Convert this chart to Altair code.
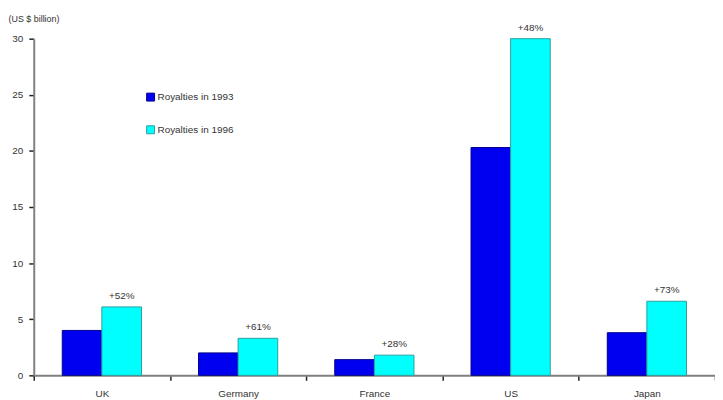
import altair as alt
import pandas as pd

countries = ["UK", "Germany", "France", "US", "Japan"]
royalties_1993 = [4.0, 2.0, 1.4, 20.3, 3.8]
royalties_1996 = [6.1, 3.3, 1.8, 30.0, 6.6]
growth_labels = ["+52%", "+61%", "+28%", "+48%", "+73%"]
series = ["Royalties in 1993", "Royalties in 1996"]

rows = []
for c, a, b, g in zip(countries, royalties_1993, royalties_1996, growth_labels):
    rows.append({"country": c, "series": series[0], "value": a, "label": ""})
    rows.append({"country": c, "series": series[1], "value": b, "label": g})
df = pd.DataFrame(rows)

FONT = "Liberation Sans"

x = alt.X("country:N", sort=countries,
          scale=alt.Scale(paddingInner=0, paddingOuter=0),
          axis=alt.Axis(title=None, labelAngle=0, tickBand="extent", labelFont=FONT,
                        labelFontSize=10, labelColor="#333333", labelPadding=8,
                        domainColor="#808080", domainWidth=2, tickColor="#222222",
                        tickSize=5, tickWidth=1.5))
xo = alt.XOffset("series:N", sort=series,
                 scale=alt.Scale(paddingInner=0, paddingOuter=0.72))
y = alt.Y("value:Q", scale=alt.Scale(domain=[0, 30], nice=False),
          axis=alt.Axis(values=[0, 5, 10, 15, 20, 25, 30], grid=False,
                        title="(US $ billion)", titleAngle=0, titleX=-26, titleY=-20,
                        titleAlign="left", titleBaseline="middle", titleFont=FONT,
                        titleFontSize=9, titleFontWeight="normal", titleColor="#333333",
                        labelFont=FONT, labelFontSize=10, labelColor="#333333",
                        labelPadding=6, domainColor="#808080", domainWidth=2,
                        tickColor="#222222", tickSize=5, tickWidth=1.5))

bars = alt.Chart(df).mark_bar(strokeWidth=1).encode(
    x=x, xOffset=xo, y=y,
    color=alt.Color("series:N", sort=series,
                    scale=alt.Scale(domain=series, range=["#0000F0", "#00FFFF"]),
                    legend=alt.Legend(title=None, orient="none", legendX=113, legendY=54,
                                      symbolType="square", symbolSize=64,
                                      symbolStrokeWidth=1, labelFont=FONT,
                                      labelFontSize=10, labelColor="#333333",
                                      rowPadding=21, labelOffset=2)),
    stroke=alt.Stroke("series:N", sort=series,
                      scale=alt.Scale(domain=series, range=["#00008B", "#2E9E9E"]),
                      legend=None),
)

texts = alt.Chart(df).mark_text(dy=-6, font=FONT, fontSize=10, color="#333333",
                                baseline="bottom").encode(
    x=x, xOffset=xo, y=y, text="label:N"
)

chart = alt.layer(bars, texts).properties(
    width=688, height=340,
    autosize=alt.AutoSizeParams(type="none"),
    padding={"left": 26, "top": 29, "right": 0, "bottom": 30},
).configure_view(stroke=None)

chart.save("out.html", embed_options={"renderer": "svg", "actions": False})
